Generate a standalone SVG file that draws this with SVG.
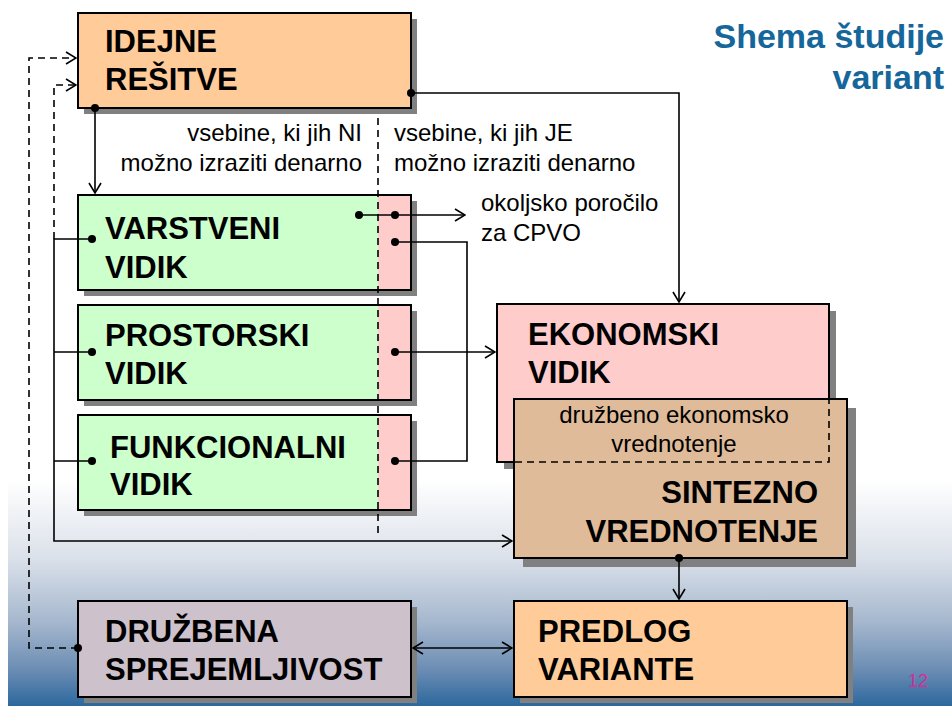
<svg xmlns="http://www.w3.org/2000/svg" width="952" height="706" viewBox="0 0 952 706">
<defs>
<linearGradient id="bg" x1="0" y1="0" x2="0" y2="1">
<stop offset="0" stop-color="#ffffff"/>
<stop offset="0.68" stop-color="#ffffff"/>
<stop offset="0.79" stop-color="#dbe1ea"/>
<stop offset="0.88" stop-color="#a6b8ce"/>
<stop offset="0.95" stop-color="#6a8cb3"/>
<stop offset="1" stop-color="#2c689d"/>
</linearGradient>
<marker id="arr" viewBox="-11 -7 12 14" refX="0" refY="0" markerWidth="12" markerHeight="14" markerUnits="userSpaceOnUse" orient="auto-start-reverse">
<path d="M-10,-6 L0,0 L-10,6" fill="none" stroke="#000" stroke-width="1.6"/>
</marker>
</defs>
<style>
.box{stroke:#000;stroke-width:2}
.sh{fill:#808080}
.t{font-family:"Liberation Sans",Arial,sans-serif;font-weight:bold;font-size:31px;fill:#000}
.r{font-family:"Liberation Sans",Arial,sans-serif;font-size:24px;fill:#000}
.ttl{font-family:"Liberation Sans",Arial,sans-serif;font-weight:bold;font-size:34px;fill:#15669a}
.ln{fill:none;stroke:#000;stroke-width:1.6}
.dl{fill:none;stroke:#000;stroke-width:1.6;stroke-dasharray:7 5}
.dot{fill:#000}
</style>
<rect x="8" y="0" width="944" height="706" fill="url(#bg)"/>
<g id="title">
<text class="ttl" x="944" y="48" text-anchor="end">Shema študije</text>
<text class="ttl" x="944" y="89" text-anchor="end">variant</text>
</g>
<g id="idejne">
<rect class="sh" x="84" y="19" width="333" height="95"/>
<rect class="box" x="78" y="13" width="333" height="95" fill="#ffcc99"/>
<text class="t" x="105" y="52">IDEJNE</text>
<text class="t" x="105" y="90">REŠITVE</text>
</g>
<g id="varstveni">
<rect class="sh" x="84" y="201" width="333" height="95"/>
<rect x="78" y="195" width="333" height="95" fill="#ccffcc"/>
<rect x="378" y="195" width="33" height="95" fill="#ffcccc"/>
<rect class="box" x="78" y="195" width="333" height="95" fill="none"/>
<text class="t" x="105" y="239">VARSTVENI</text>
<text class="t" x="105" y="278">VIDIK</text>
</g>
<g id="prostorski">
<rect class="sh" x="84" y="311" width="333" height="95"/>
<rect x="78" y="305" width="333" height="95" fill="#ccffcc"/>
<rect x="378" y="305" width="33" height="95" fill="#ffcccc"/>
<rect class="box" x="78" y="305" width="333" height="95" fill="none"/>
<text class="t" x="105" y="346">PROSTORSKI</text>
<text class="t" x="105" y="384">VIDIK</text>
</g>
<g id="funkcionalni">
<rect class="sh" x="84" y="421" width="333" height="95"/>
<rect x="78" y="415" width="333" height="95" fill="#ccffcc"/>
<rect x="378" y="415" width="33" height="95" fill="#ffcccc"/>
<rect class="box" x="78" y="415" width="333" height="95" fill="none"/>
<text class="t" x="110" y="458">FUNKCIONALNI</text>
<text class="t" x="110" y="495">VIDIK</text>
</g>
<g id="ekonomski">
<rect class="sh" x="504" y="311" width="332" height="158"/>
<rect class="box" x="497" y="304" width="332" height="158" fill="#ffcccc"/>
<text class="t" x="528" y="345">EKONOMSKI</text>
<text class="t" x="528" y="383">VIDIK</text>
</g>
<g id="sintezno">
<rect class="sh" x="523" y="408" width="333" height="159"/>
<rect class="box" x="514" y="399" width="333" height="159" fill="#dfbb99"/>
<path class="dl" d="M515,462 H829 V400"/>
<text class="r" x="674" y="423" text-anchor="middle">družbeno ekonomsko</text>
<text class="r" x="674" y="452" text-anchor="middle">vrednotenje</text>
<text class="t" x="818" y="503" text-anchor="end">SINTEZNO</text>
<text class="t" x="818" y="542" text-anchor="end">VREDNOTENJE</text>
</g>
<g id="druzbena">
<rect class="sh" x="84" y="607" width="333" height="96"/>
<rect class="box" x="78" y="601" width="333" height="96" fill="#cdc1cb"/>
<text class="t" x="105" y="642">DRUŽBENA</text>
<text class="t" x="105" y="680">SPREJEMLJIVOST</text>
</g>
<g id="predlog">
<rect class="sh" x="520" y="607" width="333" height="96"/>
<rect class="box" x="514" y="601" width="333" height="96" fill="#ffcc99"/>
<text class="t" x="538" y="642">PREDLOG</text>
<text class="t" x="538" y="680">VARIANTE</text>
</g>
<g id="labels">
<text class="r" x="362" y="141" text-anchor="end">vsebine, ki jih NI</text>
<text class="r" x="362" y="171" text-anchor="end">možno izraziti denarno</text>
<text class="r" x="394" y="141">vsebine, ki jih JE</text>
<text class="r" x="394" y="171">možno izraziti denarno</text>
<text class="r" x="481" y="211">okoljsko poročilo</text>
<text class="r" x="481" y="241">za CPVO</text>
<text x="928" y="687" text-anchor="end" font-family="Liberation Sans,Arial,sans-serif" font-size="18" fill="#d0309a">12</text>
</g>
<g id="connectors">
<path class="dl" d="M378,118 V533"/>
<path class="ln" d="M95,108 V193" marker-end="url(#arr)"/>
<path class="ln" d="M411,93 H679 V302" marker-end="url(#arr)"/>
<path class="dl" d="M78,648 H29 V58 H76" marker-end="url(#arr)"/>
<path class="dl" d="M54,239 V85 H76" marker-end="url(#arr)"/>
<path class="ln" d="M92,239 H54 V541 H512" marker-end="url(#arr)"/>
<path class="ln" d="M92,352 H54 M92,461 H54"/>
<path class="ln" d="M359,215 H465" marker-end="url(#arr)"/>
<path class="ln" d="M395,242 H467 V461 H395"/>
<path class="ln" d="M395,352 H495" marker-end="url(#arr)"/>
<path class="ln" d="M679,558 V599" marker-end="url(#arr)"/>
<path class="ln" d="M413,648 H512" marker-start="url(#arr)" marker-end="url(#arr)"/>
<circle class="dot" cx="95" cy="108" r="4"/>
<circle class="dot" cx="411" cy="93" r="4"/>
<circle class="dot" cx="78" cy="648" r="4"/>
<circle class="dot" cx="92" cy="239" r="4"/>
<circle class="dot" cx="92" cy="352" r="4"/>
<circle class="dot" cx="92" cy="461" r="4"/>
<circle class="dot" cx="359" cy="215" r="4"/>
<circle class="dot" cx="395" cy="215" r="4"/>
<circle class="dot" cx="395" cy="242" r="4"/>
<circle class="dot" cx="395" cy="352" r="4"/>
<circle class="dot" cx="395" cy="461" r="4"/>
<circle class="dot" cx="679" cy="558" r="4"/>
</g>
</svg>
